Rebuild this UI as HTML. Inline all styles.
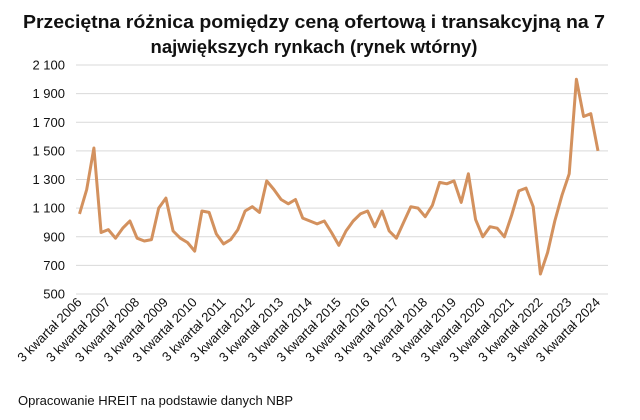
<!DOCTYPE html>
<html><head><meta charset="utf-8"><style>
body{margin:0;width:640px;height:415px;background:#fff;font-family:"Liberation Sans",sans-serif;overflow:hidden}
</style></head><body>
<svg width="640" height="415" id="c">
<text x="314" y="28" text-anchor="middle" font-weight="bold" font-size="18.5" fill="#111" textLength="582" lengthAdjust="spacingAndGlyphs">Przeciętna różnica pomiędzy ceną ofertową i transakcyjną na 7</text>
<text x="314" y="53" text-anchor="middle" font-weight="bold" font-size="18.5" fill="#111">największych rynkach (rynek wtórny)</text>
<text x="18" y="405" font-size="13" fill="#111">Opracowanie HREIT na podstawie danych NBP</text>
<g id="grid"></g><g id="xl"></g>
</svg>
<script>
const yTicks=[500,700,900,1100,1300,1500,1700,1900,2100];
const yTickLabels=["500","700","900","1 100","1 300","1 500","1 700","1 900","2 100"];
const years=[2006,2007,2008,2009,2010,2011,2012,2013,2014,2015,2016,2017,2018,2019,2020,2021,2022,2023,2024];
const values=[1060,1230,1520,930,950,890,960,1010,890,870,880,1100,1170,940,890,860,800,1080,1070,920,850,880,950,1080,1110,1070,1290,1230,1160,1130,1160,1030,1010,990,1010,930,840,940,1010,1060,1080,970,1080,940,890,1000,1110,1100,1040,1120,1280,1270,1290,1140,1340,1020,900,970,960,900,1050,1220,1240,1110,640,790,1010,1190,1340,2000,1740,1760,1500];
const NS="http://www.w3.org/2000/svg";
const svg=document.getElementById('c');
const x0=79.5,x1=598,yTop=65,yBot=294;
const xs=i=>x0+(x1-x0)*i/(values.length-1);
const ys=v=>yBot-(v-500)/(1600)*(yBot-yTop);
const g=document.getElementById('grid');
yTicks.forEach((t,i)=>{
 const l=document.createElementNS(NS,'line');
 
 
 l.setAttribute('x1',76);l.setAttribute('x2',608);l.setAttribute('y1',ys(t));l.setAttribute('y2',ys(t));
 l.setAttribute('stroke','#d9d9d9');l.setAttribute('stroke-width','1');g.appendChild(l);
 const tx=document.createElementNS(NS,'text');
 
 
 tx.setAttribute('x',65);tx.setAttribute('y',ys(t)+4.5);tx.setAttribute('text-anchor','end');
 tx.setAttribute('font-size','13');tx.setAttribute('fill','#111');tx.textContent=yTickLabels[i];g.appendChild(tx);
});
const xl=document.getElementById('xl');
years.forEach((y,i)=>{
 const px=xs(i*4)+3,py=303;
 const tx=document.createElementNS(NS,'text');
 
 
 tx.setAttribute('x',px);tx.setAttribute('y',py);tx.setAttribute('text-anchor','end');
 tx.setAttribute('font-size','13');tx.setAttribute('fill','#111');
 tx.setAttribute('transform','rotate(-45 '+px+' '+py+')');
 tx.textContent='3 kwartał '+y;xl.appendChild(tx);
});
const p=document.createElementNS(NS,'polyline');


p.setAttribute('points',values.map((v,i)=>xs(i).toFixed(1)+','+ys(v).toFixed(1)).join(' '));
p.setAttribute('fill','none');p.setAttribute('stroke','#d3915e');p.setAttribute('stroke-width','3');p.setAttribute('stroke-linejoin','round');
svg.appendChild(p);
</script>
</body></html>
